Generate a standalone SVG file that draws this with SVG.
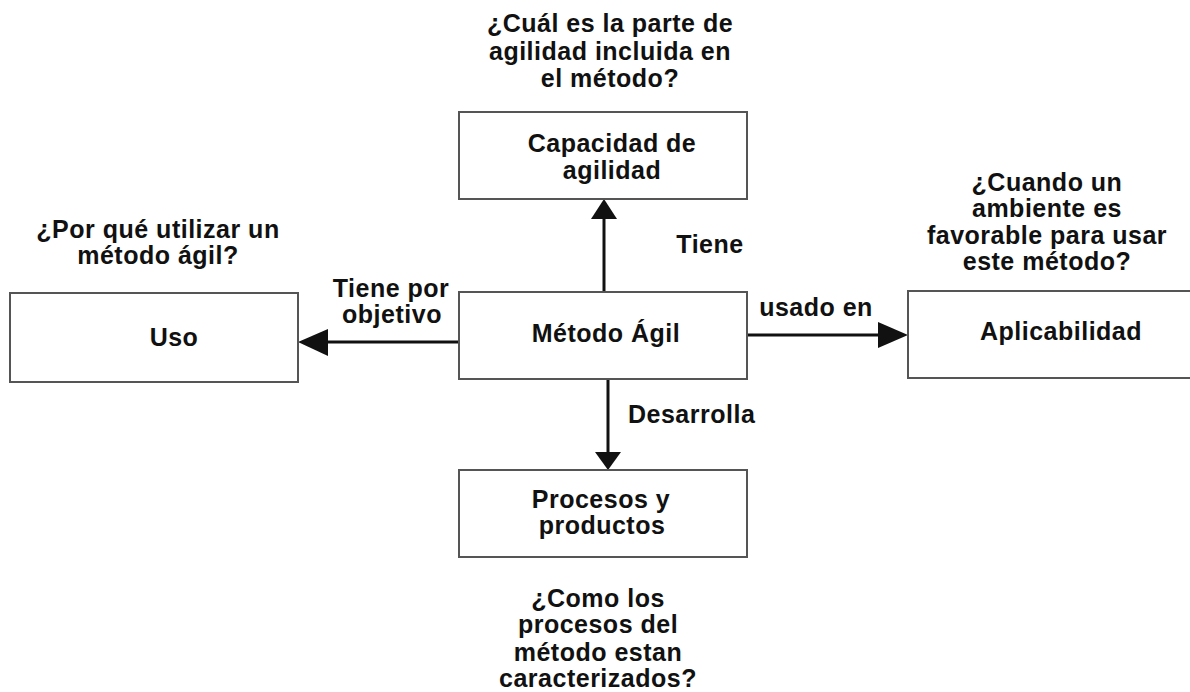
<svg xmlns="http://www.w3.org/2000/svg" width="1190" height="692" viewBox="0 0 1190 692">
<defs>
<style>
.box{fill:#fff;stroke:#555;stroke-width:2}
.t{font-family:"Liberation Sans",Arial,sans-serif;font-weight:bold;font-size:25px;letter-spacing:0.5px;fill:#111;text-anchor:middle}
.l{font-family:"Liberation Sans",Arial,sans-serif;font-weight:bold;font-size:25px;letter-spacing:0.5px;fill:#111}
.c{stroke:#111;stroke-width:3;fill:none}
.ah{fill:#111}
</style>
</defs>
<rect width="1190" height="692" fill="#fff"/>
<g id="q-top"><text class="t" x="610" y="32"><tspan x="610" y="32">¿Cuál es la parte de</tspan><tspan x="610" y="60">agilidad incluida en</tspan><tspan x="610" y="87">el método?</tspan></text></g>
<g id="q-left"><text class="t"><tspan x="158" y="238">¿Por qué utilizar un</tspan><tspan x="158" y="264">método ágil?</tspan></text></g>
<g id="q-right"><text class="t"><tspan x="1047" y="191">¿Cuando un</tspan><tspan x="1047" y="217">ambiente es</tspan><tspan x="1047" y="244">favorable para usar</tspan><tspan x="1047" y="270">este método?</tspan></text></g>
<g id="q-bottom"><text class="t"><tspan x="598" y="607">¿Como los</tspan><tspan x="598" y="633">procesos del</tspan><tspan x="598" y="661">método estan</tspan><tspan x="598" y="687">caracterizados?</tspan></text></g>
<g id="connectors">
<line class="c" x1="604" y1="292" x2="604" y2="215"/>
<polygon class="ah" points="604,199 591,219 617,219"/>
<line class="c" x1="459" y1="342" x2="325" y2="342"/>
<polygon class="ah" points="298,342 328,329 328,356"/>
<line class="c" x1="747" y1="335" x2="882" y2="335"/>
<polygon class="ah" points="908,335 878,322 878,348"/>
<line class="c" x1="608" y1="379" x2="608" y2="455"/>
<polygon class="ah" points="608,470 595,452 621,452"/>
<text class="t" x="710" y="253">Tiene</text>
<text class="t"><tspan x="391" y="297">Tiene por</tspan><tspan x="392" y="323">objetivo</tspan></text>
<text class="t" x="816" y="316">usado en</text>
<text class="l" x="628" y="423">Desarrolla</text>
</g>
<g id="capacidad"><rect class="box" x="459" y="112" width="288" height="87"/><text class="t"><tspan x="612" y="152">Capacidad de</tspan><tspan x="612" y="179">agilidad</tspan></text></g>
<g id="metodo"><rect class="box" x="459" y="292" width="288" height="87"/><text class="t" x="606" y="342">Método Ágil</text></g>
<g id="uso"><rect class="box" x="10" y="293" width="288" height="89"/><text class="t" x="174" y="346">Uso</text></g>
<g id="aplicabilidad"><rect class="box" x="908" y="291" width="290" height="87"/><text class="t" x="1061" y="340">Aplicabilidad</text></g>
<g id="procesos"><rect class="box" x="459" y="470" width="288" height="87"/><text class="t"><tspan x="601" y="508">Procesos y</tspan><tspan x="602" y="534">productos</tspan></text></g>
</svg>
